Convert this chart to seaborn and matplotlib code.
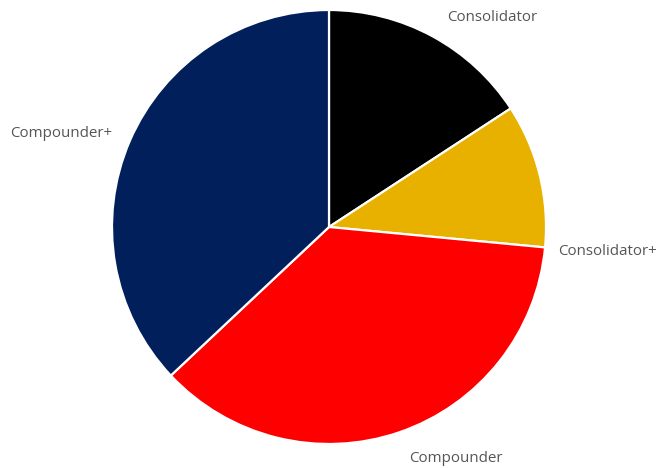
import numpy as np
import matplotlib
matplotlib.use("Agg")
import matplotlib.pyplot as plt
import seaborn as sns

categories = ["Consolidator", "Consolidator+", "Compounder", "Compounder+"]
values = [15.8, 10.7, 36.5, 37.0]
colors = ["#000000", "#E8B100", "#FF0000", "#001F5B"]

sns.set_style("white")
plt.rcParams["font.family"] = ["Open Sans", "DejaVu Sans"]

W, H = 657, 468
fig = plt.figure(figsize=(W / 100, H / 100), dpi=100)
cx, cy, r = 329, 227, 217
ax = fig.add_axes([(cx - r) / W, (H - cy - r) / H, 2 * r / W, 2 * r / H])

wedges, _ = ax.pie(values, colors=colors, startangle=90, counterclock=False,
                   wedgeprops=dict(edgecolor="white", linewidth=1.6),
                   radius=1.0)
ax.set_xlim(-1, 1)
ax.set_ylim(-1, 1)
ax.set_aspect("equal")
ax.axis("off")

# label placement beyond the edge; small pixel nudges (dx, dy) per label
dist = 1 + 30 / r
nudge = {"Consolidator": (0, -8), "Consolidator+": (0, 0),
         "Compounder": (0, 2), "Compounder+": (10, -5)}
for w, lab in zip(wedges, categories):
    mid = (w.theta1 + w.theta2) / 2
    a = np.deg2rad(mid)
    x, y = dist * np.cos(a), dist * np.sin(a)
    ha = "left" if x >= 0 else "right"
    if lab == "Consolidator+":
        # aligned with the outer rim near the slice's lower edge
        a2 = np.deg2rad(w.theta1)
        x, y = np.cos(a2) + 13 / r, np.sin(a2) - 4 / r
    dx, dy = nudge[lab]
    ax.text(x + dx / r, y + dy / r, lab, ha=ha, va="center",
            fontsize=10.9, color="#555555")

fig.savefig("out.png", dpi=100)
